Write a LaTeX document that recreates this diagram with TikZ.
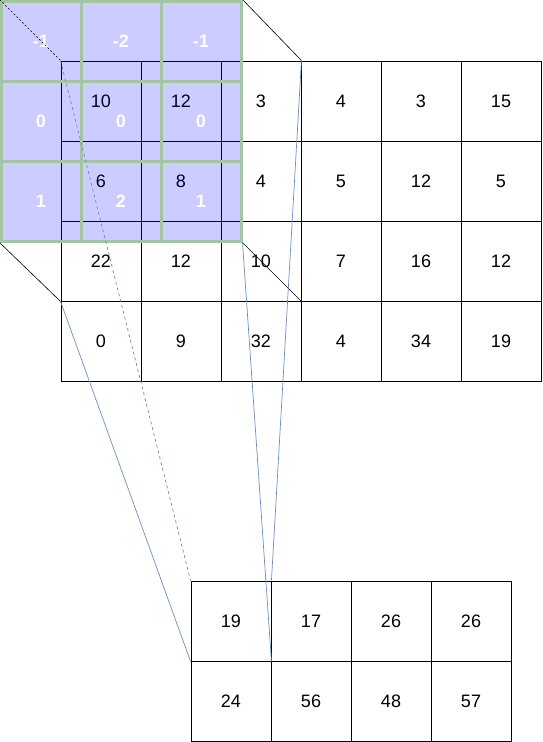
\documentclass[tikz,border=0pt]{standalone}
\usepackage{fontspec}
\setmainfont{Liberation Sans}
\definecolor{kgreen}{RGB}{164,196,162}
\definecolor{lblue}{RGB}{108,142,191}

\begin{document}
\begin{tikzpicture}[x=1pt, y=-1pt,
        every node/.style={rectangle, minimum size=80pt, inner sep=0pt,
                           font=\fontsize{18}{21}\selectfont},
        icell/.style={draw=black, line width=0.9pt},
        kcell/.style={draw=kgreen, line width=3pt, fill=blue, fill opacity=0.2,
                      text opacity=1, text=white, font=\fontsize{18}{21}\selectfont\bfseries},
        ocell/.style={draw=black, line width=0.9pt},
        proj/.style={black, line width=0.6pt},
        link/.style={lblue, line width=0.7pt}]
        \useasboundingbox (0,0) rectangle (542,742);

        % Input matrix
        \node[icell] (in11) at (101,101) {10};
        \node[icell] (in12) at (181,101) {12};
        \node[icell] (in13) at (261,101) {3};
        \node[icell] (in14) at (341,101) {4};
        \node[icell] (in15) at (421,101) {3};
        \node[icell] (in16) at (501,101) {15};
        \node[icell] (in21) at (101,181) {6};
        \node[icell] (in22) at (181,181) {8};
        \node[icell] (in23) at (261,181) {4};
        \node[icell] (in24) at (341,181) {5};
        \node[icell] (in25) at (421,181) {12};
        \node[icell] (in26) at (501,181) {5};
        \node[icell] (in31) at (101,261) {22};
        \node[icell] (in32) at (181,261) {12};
        \node[icell] (in33) at (261,261) {10};
        \node[icell] (in34) at (341,261) {7};
        \node[icell] (in35) at (421,261) {16};
        \node[icell] (in36) at (501,261) {12};
        \node[icell] (in41) at (101,341) {0};
        \node[icell] (in42) at (181,341) {9};
        \node[icell] (in43) at (261,341) {32};
        \node[icell] (in44) at (341,341) {4};
        \node[icell] (in45) at (421,341) {34};
        \node[icell] (in46) at (501,341) {19};

        % Kernel on top of the input
        \node[kcell] (k11) at (41,41) {-1};
        \node[kcell] (k12) at (121,41) {-2};
        \node[kcell] (k13) at (201,41) {-1};
        \node[kcell] (k21) at (41,121) {0};
        \node[kcell] (k22) at (121,121) {0};
        \node[kcell] (k23) at (201,121) {0};
        \node[kcell] (k31) at (41,201) {1};
        \node[kcell] (k32) at (121,201) {2};
        \node[kcell] (k33) at (201,201) {1};

        % Output matrix
        \node[ocell] (out11) at (231,621) {19};
        \node[ocell] (out12) at (311,621) {17};
        \node[ocell] (out13) at (391,621) {26};
        \node[ocell] (out14) at (471,621) {26};
        \node[ocell] (out21) at (231,701) {24};
        \node[ocell] (out22) at (311,701) {56};
        \node[ocell] (out23) at (391,701) {48};
        \node[ocell] (out24) at (471,701) {57};

        % Kernel edges down to the input
        \draw[proj, dash pattern=on 2pt off 2pt] (k11.north west) -- (in11.north west);
        \draw[proj] (k13.north east) -- (in13.north east);
        \draw[proj] (k31.south west) -- (in31.south west);
        \draw[proj] (k33.south east) -- (in33.south east);

        % Receptive field down to the output
        \draw[link, dash pattern=on 3pt off 3pt] (in11.north west) -- (out11.north west);
        \draw[link] (in31.south west) -- (out11.south west);
        \draw[link] (in13.north east) -- (out11.north east);
        \draw[link] (k33.south east) -- (out11.south east);

    \end{tikzpicture}
\end{document}
